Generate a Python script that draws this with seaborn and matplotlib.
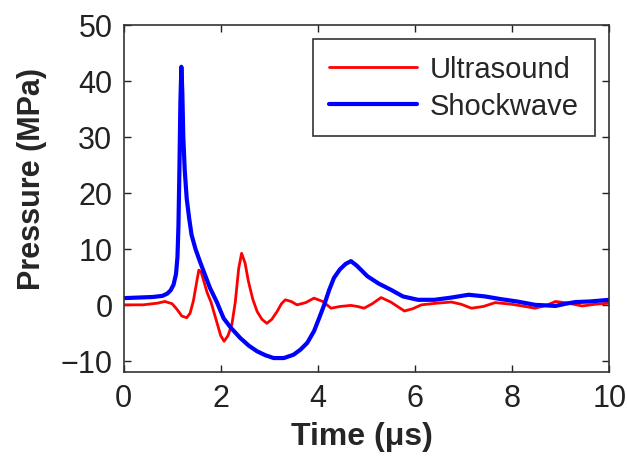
import pandas as pd
import matplotlib.pyplot as plt
import seaborn as sns

# -----------------------------
# Data
# -----------------------------

t_ultra = [0, 0.4, 0.7, 0.85, 1.0, 1.1, 1.2, 1.3, 1.37, 1.44, 1.5, 1.55, 1.6, 1.66,
           1.72, 1.8, 1.9, 2.0, 2.07, 2.15, 2.23, 2.3, 2.37, 2.43, 2.5, 2.57, 2.66,
           2.75, 2.85, 2.95, 3.05, 3.16, 3.25, 3.33, 3.45, 3.57, 3.75, 3.92, 4.1,
           4.27, 4.45, 4.68, 4.82, 4.95, 5.12, 5.3, 5.5, 5.78, 5.95, 6.13, 6.45,
           6.75, 6.95, 7.16, 7.4, 7.65, 7.99, 8.2, 8.47, 8.7, 8.89, 9.15, 9.44,
           9.7, 10.0]
p_ultra = [0, 0, 0.3, 0.6, 0.2, -0.8, -2.0, -2.3, -1.5, 0.8, 3.8, 6.2, 5.8, 4.0,
           2.2, 0.5, -2.5, -5.5, -6.5, -5.5, -3.5, 0.5, 6.5, 9.2, 7.5, 4.2, 1.0,
           -1.2, -2.6, -3.3, -2.6, -1.2, 0.2, 0.9, 0.6, 0, 0.4, 1.2, 0.6,
           -0.6, -0.3, -0.1, -0.3, -0.6, 0.2, 1.3, 0.5, -1.1, -0.7, 0, 0.3,
           0.5, 0.1, -0.6, -0.3, 0.4, 0.1, -0.2, -0.6, -0.1, 0.6, 0.3, -0.2,
           0.1, 0.3]

t_shock = [0, 0.3, 0.6, 0.8, 0.9, 0.97, 1.03, 1.08, 1.11, 1.13, 1.15, 1.17, 1.19,
           1.21, 1.23, 1.26, 1.3, 1.35, 1.4, 1.48, 1.57, 1.67, 1.78, 1.92, 2.06,
           2.2, 2.4, 2.58, 2.75, 2.92, 3.09, 3.3, 3.5, 3.64, 3.78, 3.92, 4.02,
           4.13, 4.23, 4.33, 4.45, 4.57, 4.68, 4.8, 5.02, 5.25, 5.5, 5.75, 6.06,
           6.4, 6.75, 7.1, 7.44, 7.78, 8.1, 8.47, 8.7, 8.89, 9.1, 9.3, 9.6, 10.0]
p_shock = [1.2, 1.3, 1.4, 1.6, 2.0, 2.6, 3.6, 5.5, 8.5, 14.0, 24.0, 36.0, 42.5,
           38.0, 30.0, 24.0, 19.0, 15.5, 12.5, 10.0, 7.8, 5.5, 3.0, 0.5, -2.4,
           -4.0, -5.9, -7.3, -8.3, -9.0, -9.5, -9.5, -8.9, -8.0, -6.8, -4.7, -2.5,
           0, 2.6, 4.8, 6.3, 7.3, 7.8, 7.0, 5.1, 3.8, 2.7, 1.5, 0.9,
           0.9, 1.3, 1.8, 1.5, 1.0, 0.6, 0.0, -0.1, -0.2, 0.2, 0.5, 0.6, 0.9]

x_ticks = [0, 2, 4, 6, 8, 10]
y_ticks = [-10, 0, 10, 20, 30, 40, 50]

# -----------------------------
# Plot
# -----------------------------

sns.set_style("ticks")
plt.rcParams["font.family"] = ["Liberation Sans", "DejaVu Sans"]

fig = plt.figure(figsize=(6.27, 4.6), dpi=100)
ax = fig.add_axes([0.197, 0.189, 0.775, 0.755])

sns.lineplot(x=t_ultra, y=p_ultra, color="#ff0000", linewidth=2,
             label="Ultrasound", ax=ax, sort=False)
sns.lineplot(x=t_shock, y=p_shock, color="#0000ff", linewidth=3.0,
             label="Shockwave", ax=ax, sort=False)

ax.set_xlim(0, 10)
ax.set_ylim(-12, 50)
ax.set_xticks(x_ticks)
ax.set_yticks(y_ticks)
ax.set_yticklabels(["\u221210" if v < 0 else str(v) for v in y_ticks])

ax.tick_params(direction="in", length=5, width=1, labelsize=22, colors="#222222",
               top=True, right=True, pad=8)
for s in ax.spines.values():
    s.set_visible(True)
    s.set_color("#333333")
    s.set_linewidth(1.2)

ax.set_xlabel("Time (\u03bcs)", fontsize=23, fontweight="bold")
ax.set_ylabel("Pressure (MPa)", fontsize=22, fontweight="bold")
ax.xaxis.set_label_coords(0.49, -0.14)
ax.yaxis.set_label_coords(-0.158, 0.56)

leg = ax.legend(loc="upper right", fontsize=21, frameon=True, fancybox=False,
                handlelength=3.0, borderpad=0.55, labelspacing=0.3,
                handletextpad=0.45, borderaxespad=0.5)
leg.get_frame().set_edgecolor("#333333")
leg.get_frame().set_linewidth(1.2)
leg.get_frame().set_alpha(1)

plt.savefig("out.png", dpi=100)
